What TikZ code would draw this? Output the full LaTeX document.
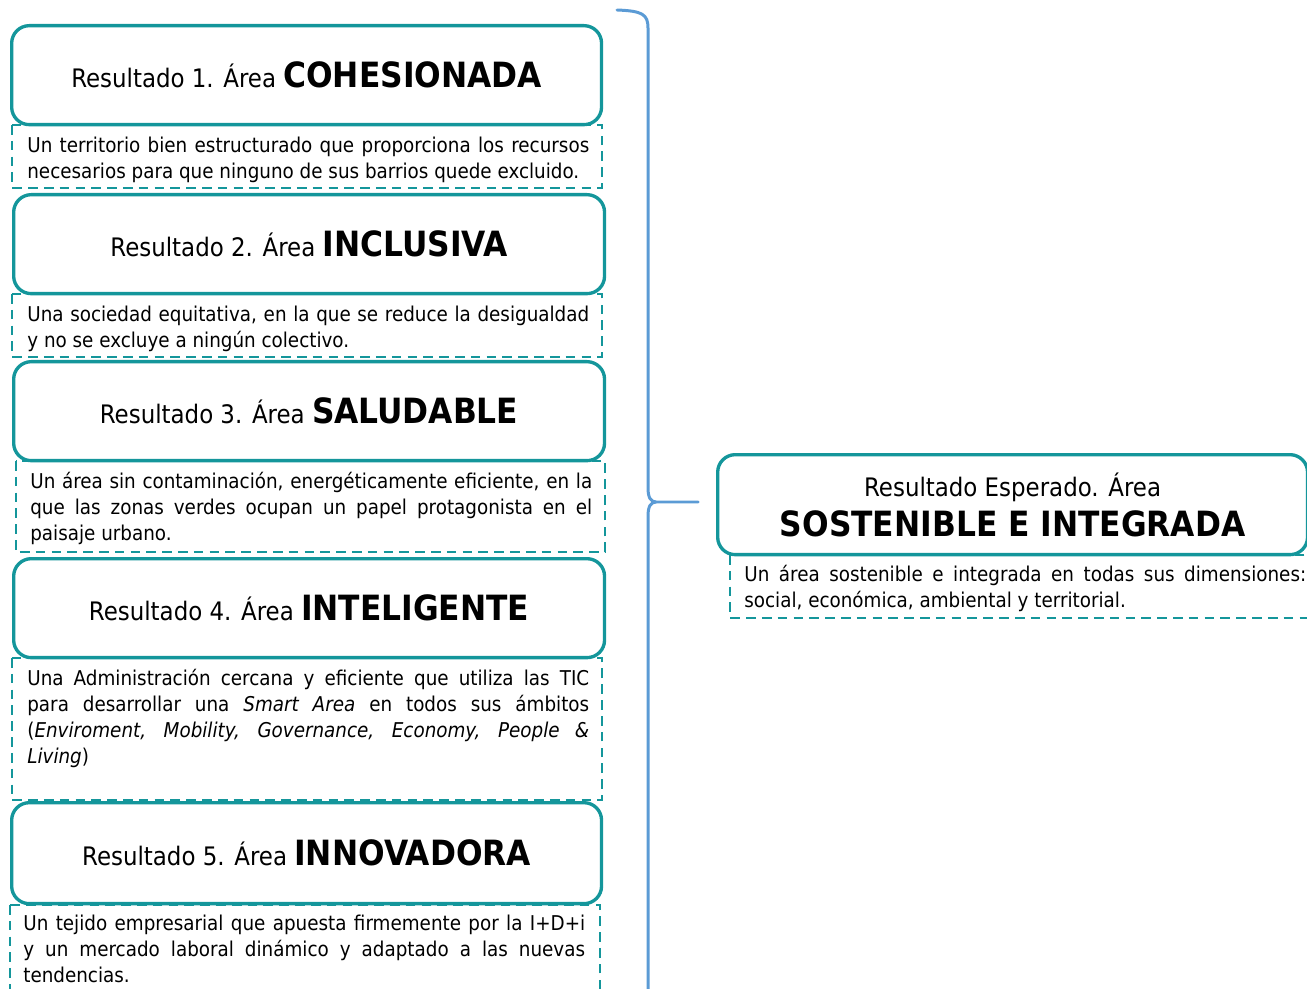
\documentclass[tikz,border=0pt]{standalone}
\usepackage{fontspec}
\setmainfont{DejaVu Sans Condensed}
\usepackage{xcolor}
\usetikzlibrary{positioning,calc}

\definecolor{tealbox}{RGB}{20,150,155}
\definecolor{bracecol}{RGB}{91,155,213}

\newcommand{\titlefont}{\fontsize{14.5pt}{18pt}\selectfont}
\newcommand{\descfont}{\fontsize{11.6pt}{14.8pt}\selectfont}
\newcommand{\bigword}[1]{{\fontsize{19.8pt}{24pt}\selectfont\bfseries #1}}

\begin{document}
\begin{tikzpicture}[x=0.02cm, y=-0.02cm,
    resbox/.style={draw=tealbox, line width=1.9pt, rounded corners=10pt, fill=white,
      minimum width=11.8cm, minimum height=1.98cm, anchor=north west, font=\titlefont},
    desctext/.style={anchor=north west, text width=11.24cm, align=justify, inner sep=0pt, font=\descfont},
    descframe/.style={draw=tealbox, dashed, dash pattern=on 5.5pt off 3.5pt, line width=0.6pt},
    brace/.style={draw=bracecol, line width=1.7pt, line cap=round}]
    \useasboundingbox (0,0) rectangle (1307,989);

    % dashed frames of the descriptions
    \draw[descframe] (12,125) rectangle (602,188);
    \draw[descframe] (12,294) rectangle (602,357);
    \draw[descframe] (16,461) rectangle (605,552);
    \draw[descframe] (12,658) rectangle (602,800);
    \draw[descframe] (10,905) rectangle (600,1000);
    \draw[descframe] (730,555) rectangle (1310,618);

    % result boxes
    \node[resbox] (r1) at (10,24) {Resultado 1. Área \bigword{COHESIONADA}};
    \node[resbox, minimum width=11.82cm] (r2) at (12,193) {Resultado 2. Área \bigword{INCLUSIVA}};
    \node[resbox, minimum width=11.82cm] (r3) at (12,360) {Resultado 3. Área \bigword{SALUDABLE}};
    \node[resbox, minimum width=11.82cm] (r4) at (12,557) {Resultado 4. Área \bigword{INTELIGENTE}};
    \node[resbox, minimum height=2.02cm] (r5) at (10,801) {Resultado 5. Área \bigword{INNOVADORA}};
    \node[resbox, minimum height=2cm, align=center] (rE) at (716,453)
        {Resultado Esperado. Área\\[5pt]\bigword{SOSTENIBLE E INTEGRADA}};

    % descriptions
    \node[desctext] (d1) at (27,137) {Un territorio bien estructurado que proporciona los recursos\linebreak
        necesarios para que ninguno de sus barrios quede excluido.};
    \node[desctext] (d2) at (27,306) {Una sociedad equitativa, en la que se reduce la desigualdad\linebreak
        y no se excluye a ningún colectivo.};
    \node[desctext] (d3) at (30,472) {Un área sin contaminación, energéticamente eficiente, en la\linebreak
        que las zonas verdes ocupan un papel protagonista en el\linebreak paisaje urbano.};
    \node[desctext] (d4) at (27,669) {Una Administración cercana y eficiente que utiliza las TIC\linebreak
        para desarrollar una \emph{Smart Area} en todos sus ámbitos\linebreak
        (\emph{Enviroment, Mobility, Governance, Economy, People \&}\linebreak \emph{Living})};
    \node[desctext] (d5) at (23,915) {Un tejido empresarial que apuesta firmemente por la I+D+i\linebreak
        y un mercado laboral dinámico y adaptado a las nuevas\linebreak tendencias.};
    \node[desctext] (dE) at (744,565) {Un área sostenible e integrada en todas sus dimensiones:\linebreak
        social, económica, ambiental y territorial.};

    % brace gathering the five results
    \coordinate (bt) at (617,10);
    \coordinate (bm) at (656,502);
    \coordinate (bp) at (698,502);
    \coordinate (bb) at (648,1000);
    \draw[brace] (bt) .. controls (642,11) and (648,14) .. (648,28) -- (648,488)
        .. controls (648,498) and (651,502) .. (bm) -- (bp);
    \draw[brace] (bm) .. controls (651,502) and (648,506) .. (648,516) -- (bb);
\end{tikzpicture}
\end{document}
